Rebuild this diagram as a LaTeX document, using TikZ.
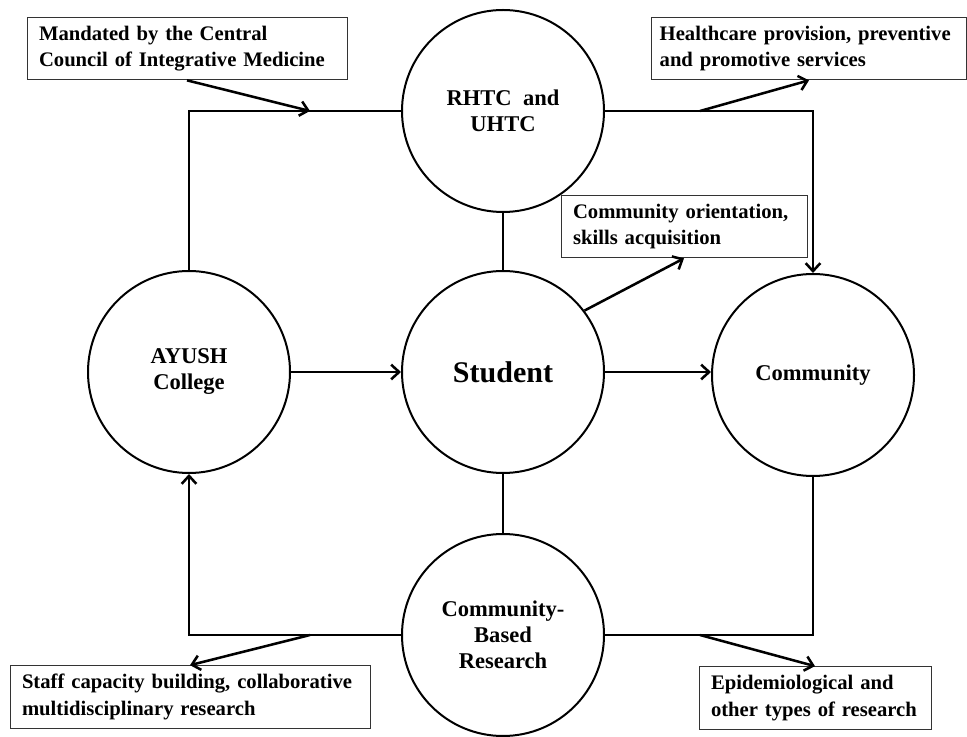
\documentclass[tikz,border=0pt]{standalone}
\usepackage{fontspec}
\setmainfont{Liberation Serif}
\usetikzlibrary{arrows.meta}
\begin{document}
\begin{tikzpicture}[x=0.75pt,y=-0.75pt,
  hub/.style={draw,circle,line width=1.5pt,minimum size=151.5pt,inner sep=0pt,
    align=center,font=\bfseries\fontsize{16.9}{19.5}\selectfont},
  notebox/.style={draw=black!80,line width=0.75pt,text width=#1,minimum height=47pt,
    inner xsep=9pt,inner ysep=0pt,align=left,font=\bfseries\fontsize{15.5}{20}\selectfont},
  link/.style={line width=1.9pt},
  flow/.style={link,-{Straight Barb[length=6pt,width=11pt]}}]
  \useasboundingbox (0,0) rectangle (967,737);
  % circles:
  \node[hub] (rhtc) at (503,111) {RHTC\ \ and\\UHTC};
  \node[hub] (ayush) at (189,372) {AYUSH\\College};
  \node[hub,font=\bfseries\fontsize{22.5}{26}\selectfont] (student) at (503,372) {Student};
  \node[hub] (community) at (813,375) {Community};
  \node[hub] (cbr) at (503,635) {Community-\\Based\\Research};
  % boxes:
  \node[notebox=222pt] (mandated) at (187,48.5) {Mandated by the Central\\Council of Integrative Medicine};
  \node[notebox=224pt,inner xsep=6pt] (healthcare) at (809,48.5) {Healthcare provision, preventive\\and promotive services};
  \node[notebox=166.5pt] (orientation) at (684,226.5) {Community orientation,\\skills acquisition};
  \node[notebox=252pt] (staff) at (190,697) {Staff capacity building, collaborative\\multidisciplinary research};
  \node[notebox=156pt] (epi) at (815,698) {Epidemiological and\\other types of research};
  % points on the frame lines:
  \coordinate (intake) at (310,111);
  \coordinate (outtake) at (700,111);
  \coordinate (splitl) at (310,635);
  \coordinate (splitr) at (700,635);
  % upper frame:
  \draw[link] (ayush.north) |- (rhtc.west);
  \draw[flow] (rhtc.east) -| (community.north);
  \draw[flow] (mandated.south) -- (intake);
  \draw[flow] (outtake) -- (healthcare.south);
  % middle row:
  \draw[link] (rhtc.south) -- (student.north);
  \draw[flow] (ayush.east) -- (student.west);
  \draw[flow] (student.east) -- (student.east -| community.west);
  \draw[flow] (student.37) -- (orientation.south);
  \draw[link] (student.south) -- (cbr.north);
  % lower frame:
  \draw[flow] (cbr.west) -| (ayush.south);
  \draw[link] (community.south) |- (cbr.east);
  \draw[flow] (splitl) -- (staff.north);
  \draw[flow] (splitr) -- (epi.north);
\end{tikzpicture}
\end{document}
